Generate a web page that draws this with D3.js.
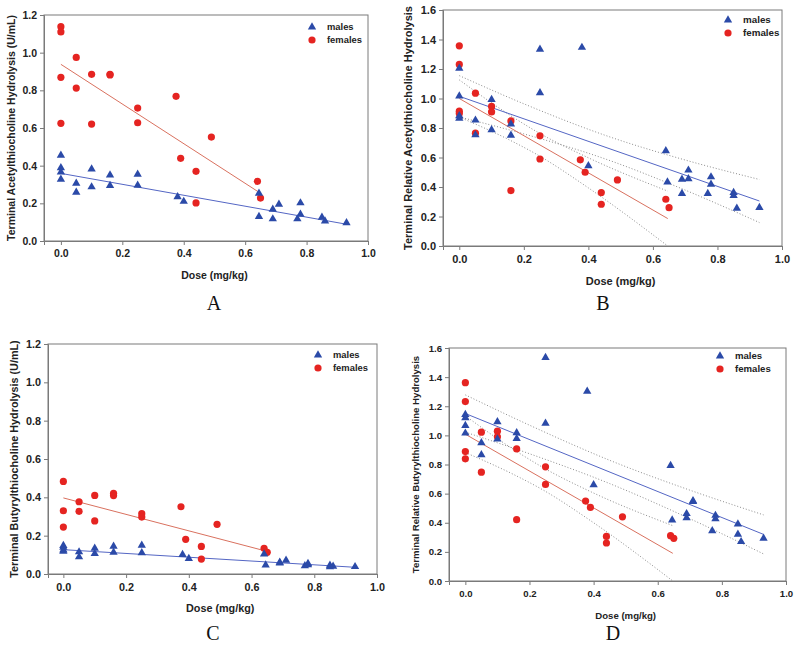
<!DOCTYPE html>
<html>
<head>
<meta charset="utf-8">
<script src="https://cdn.jsdelivr.net/npm/d3@7"></script>
<style>
  html, body { margin: 0; padding: 0; background: #fff; }
  svg { display: block; font-family: "Liberation Sans", Arial, sans-serif; }
  .tick text { font-weight: bold; fill: #222; }
</style>
</head>
<body>
<svg id="chart" width="800" height="645"></svg>
<script>
// ---------- DATA ----------
const doseTicks = [0, 0.2, 0.4, 0.6, 0.8, 1.0];
const seriesNames = ["males", "females"];

// Panel A: Terminal Acetylthiocholine Hydrolysis (U/mL)
const aMalesDose = [0,0,0,0,0.05,0.05,0.1,0.1,0.16,0.16,0.25,0.25,0.38,0.40,0.645,0.645,0.69,0.69,0.71,0.77,0.78,0.78,0.85,0.86,0.93];
const aMalesVal  = [0.455,0.389,0.366,0.327,0.306,0.258,0.382,0.287,0.350,0.294,0.354,0.296,0.235,0.210,0.253,0.130,0.168,0.117,0.195,0.117,0.202,0.142,0.126,0.106,0.096];
const aFemDose   = [0,0,0,0,0.05,0.05,0.1,0.1,0.16,0.16,0.25,0.25,0.375,0.39,0.44,0.44,0.49,0.64,0.65];
const aFemVal    = [1.138,1.110,0.869,0.625,0.975,0.812,0.885,0.621,0.885,0.882,0.706,0.628,0.768,0.439,0.370,0.202,0.552,0.317,0.228];
const aFitMales   = [[0,0.359],[0.93,0.089]];
const aFitFemales = [[0,0.938],[0.642,0.262]];

// Panel B: Terminal Relative Acetylthiocholine Hydrolysis
const bMalesDose = [0,0,0,0,0.05,0.05,0.1,0.1,0.16,0.16,0.25,0.25,0.38,0.40,0.64,0.645,0.69,0.69,0.71,0.71,0.77,0.78,0.78,0.85,0.85,0.86,0.93];
const bMalesVal  = [1.204,1.016,0.882,0.866,0.853,0.753,0.993,0.787,0.826,0.751,1.333,1.038,1.346,0.543,0.645,0.434,0.452,0.355,0.514,0.455,0.355,0.468,0.418,0.362,0.342,0.256,0.260];
const bFemDose   = [0,0,0,0,0.05,0.05,0.1,0.1,0.16,0.16,0.25,0.25,0.375,0.39,0.44,0.44,0.49,0.64,0.65];
const bFemVal    = [1.357,1.231,0.914,0.898,1.036,0.765,0.946,0.909,0.848,0.376,0.747,0.590,0.584,0.500,0.362,0.283,0.448,0.317,0.260];
const bFitMales   = [[0,1.015],[0.93,0.305]];
const bFitFemales = [[0,1.0],[0.646,0.186]];
const bBandMalesUpper   = [[0,1.155],[0.2,0.964],[0.45,0.752],[0.7,0.583],[0.93,0.451]];
const bBandMalesLower   = [[0,0.875],[0.2,0.760],[0.45,0.592],[0.7,0.379],[0.93,0.159]];
const bBandFemalesUpper = [[0,1.126],[0.15,0.897],[0.24,0.775],[0.4,0.598],[0.646,0.372]];
const bBandFemalesLower = [[0,0.874],[0.15,0.725],[0.24,0.621],[0.4,0.394],[0.646,0.0]];

// Panel C: Terminal Butyrylthiocholine Hydrolysis (U/mL)
const cMalesDose = [0,0,0,0,0.05,0.05,0.1,0.1,0.16,0.16,0.25,0.25,0.38,0.40,0.64,0.645,0.69,0.69,0.71,0.77,0.78,0.78,0.85,0.85,0.86,0.93];
const cMalesVal  = [0.148,0.139,0.125,0.118,0.115,0.089,0.134,0.106,0.144,0.113,0.150,0.111,0.101,0.080,0.104,0.047,0.061,0.057,0.071,0.043,0.054,0.048,0.045,0.037,0.040,0.038];
const cFemDose   = [0,0,0,0.05,0.05,0.1,0.1,0.16,0.16,0.25,0.25,0.375,0.39,0.44,0.44,0.49,0.64,0.65];
const cFemVal    = [0.483,0.330,0.245,0.377,0.327,0.410,0.277,0.421,0.409,0.315,0.297,0.351,0.181,0.144,0.078,0.259,0.134,0.113];
const cFitMales   = [[0,0.127],[0.93,0.035]];
const cFitFemales = [[0,0.397],[0.645,0.12]];

// Panel D: Terminal Relative Butyrylthiocholine Hydrolysis
const dMalesDose = [0,0,0,0,0.05,0.05,0.1,0.1,0.16,0.16,0.25,0.25,0.38,0.40,0.64,0.645,0.69,0.69,0.71,0.71,0.77,0.78,0.78,0.85,0.85,0.86,0.93];
const dMalesVal  = [1.143,1.120,1.067,1.015,0.949,0.866,1.093,0.974,1.017,0.978,1.534,1.083,1.303,0.661,0.793,0.418,0.462,0.434,0.551,0.545,0.345,0.450,0.427,0.391,0.320,0.270,0.293];
const dFemDose   = [0,0,0,0,0.05,0.05,0.1,0.1,0.16,0.16,0.25,0.25,0.375,0.39,0.44,0.44,0.49,0.64,0.65];
const dFemVal    = [1.362,1.232,0.889,0.839,1.022,0.747,1.029,0.990,0.907,0.421,0.784,0.663,0.549,0.505,0.306,0.261,0.441,0.311,0.293];
const dFitMales   = [[0,1.15],[0.93,0.32]];
const dFitFemales = [[0,1.008],[0.647,0.19]];
const dBandMalesUpper   = [[0,1.278],[0.2,1.070],[0.45,0.829],[0.7,0.624],[0.93,0.454]];
const dBandMalesLower   = [[0,1.022],[0.2,0.874],[0.45,0.669],[0.7,0.428],[0.93,0.186]];
const dBandFemalesUpper = [[0,1.134],[0.15,0.904],[0.24,0.782],[0.4,0.604],[0.647,0.38]];
const dBandFemalesLower = [[0,0.882],[0.15,0.732],[0.24,0.628],[0.4,0.400],[0.647,0.0]];

const yTicks12 = [0, 0.2, 0.4, 0.6, 0.8, 1.0, 1.2];
const yTicks16 = [0, 0.2, 0.4, 0.6, 0.8, 1.0, 1.2, 1.4, 1.6];

// ---------- PANEL OPTIONS ----------
const panels = [
  { letter: "A", yTitle: "Terminal Acetylthiocholine Hydrolysis (U/mL)",
    left: 44, right: 368, top: 15, bottom: 241, xMin: -0.055, yMax: 1.2, yTicks: yTicks12,
    males: [aMalesDose, aMalesVal], females: [aFemDose, aFemVal],
    fitM: aFitMales, fitF: aFitFemales, bands: [],
    fs: 10.5, legFs: 9.4, yTitleX: 11, xTitleY: 275, letterX: 214, letterY: 303, legX: 312, legY: 27 },
  { letter: "B", yTitle: "Terminal Relative Acetylthiocholine Hydrolysis",
    left: 443, right: 782, top: 10, bottom: 246, xMin: -0.0505, yMax: 1.6, yTicks: yTicks16,
    males: [bMalesDose, bMalesVal], females: [bFemDose, bFemVal],
    fitM: bFitMales, fitF: bFitFemales,
    bands: [bBandMalesUpper, bBandMalesLower, bBandFemalesUpper, bBandFemalesLower],
    fs: 11, legFs: 9.8, yTitleX: 408, xTitleY: 281, letterX: 603, letterY: 303, legX: 728, legY: 20 },
  { letter: "C", yTitle: "Terminal Butyrylthiocholine Hydrolysis (U/mL)",
    left: 48, right: 377, top: 344, bottom: 574, xMin: -0.049, yMax: 1.2, yTicks: yTicks12,
    males: [cMalesDose, cMalesVal], females: [cFemDose, cFemVal],
    fitM: cFitMales, fitF: cFitFemales, bands: [],
    fs: 10.8, legFs: 9.4, yTitleX: 14, xTitleY: 608, letterX: 213, letterY: 633, legX: 318, legY: 355 },
  { letter: "D", yTitle: "Terminal Relative Butyrylthiocholine Hydrolysis",
    left: 449, right: 786, top: 348, bottom: 581, xMin: -0.051, yMax: 1.6, yTicks: yTicks16,
    males: [dMalesDose, dMalesVal], females: [dFemDose, dFemVal],
    fitM: dFitMales, fitF: dFitFemales,
    bands: [dBandMalesUpper, dBandMalesLower, dBandFemalesUpper, dBandFemalesLower],
    fs: 9.6, legFs: 9.6, yTitleX: 416, xTitleY: 616, letterX: 613, letterY: 633, legX: 720, legY: 356 }
];

const BLUE = "#2b4aa8", RED = "#e52421";
const BLUE_LINE = "#5466c4", RED_LINE = "#d9715f";
const AXIS = "#7a7a7a", BAND = "#8c8c8c";

const svg = d3.select("#chart");
const tri = d3.symbol().type(d3.symbolTriangle).size(30);

panels.forEach(p => {
  const x = d3.scaleLinear().domain([p.xMin, 1.0]).range([p.left, p.right]);
  const y = d3.scaleLinear().domain([0, p.yMax]).range([p.bottom, p.top]);
  const g = svg.append("g");

  // frame
  g.append("rect").attr("x", p.left).attr("y", p.top)
    .attr("width", p.right - p.left).attr("height", p.bottom - p.top)
    .attr("fill", "none").attr("stroke", AXIS).attr("stroke-width", 1);

  // axes
  const xa = g.append("g").attr("transform", `translate(0,${p.bottom})`)
    .call(d3.axisBottom(x).tickValues(doseTicks).tickFormat(d3.format(".1f")).tickSize(4).tickPadding(5));
  const ya = g.append("g").attr("transform", `translate(${p.left},0)`)
    .call(d3.axisLeft(y).tickValues(p.yTicks).tickFormat(d3.format(".1f")).tickSize(4).tickPadding(3));
  [xa, ya].forEach(a => {
    a.select(".domain").attr("stroke", AXIS);
    a.selectAll(".tick line").attr("stroke", AXIS);
    a.selectAll(".tick text").style("font-size", p.fs + "px");
  });

  // confidence bands
  const bandLine = d3.line().x(d => x(d[0])).y(d => y(d[1])).curve(d3.curveMonotoneX);
  p.bands.forEach(b => {
    g.append("path").attr("d", bandLine(b)).attr("fill", "none")
      .attr("stroke", BAND).attr("stroke-width", 1).attr("stroke-dasharray", "1,2");
  });

  // regression lines
  const fit = d3.line().x(d => x(d[0])).y(d => y(d[1]));
  g.append("path").attr("d", fit(p.fitF)).attr("fill", "none").attr("stroke", RED_LINE).attr("stroke-width", 1);
  g.append("path").attr("d", fit(p.fitM)).attr("fill", "none").attr("stroke", BLUE_LINE).attr("stroke-width", 1);

  // points
  const fem = p.females[0].map((d, i) => [d, p.females[1][i]]);
  const mal = p.males[0].map((d, i) => [d, p.males[1][i]]);
  g.selectAll(".f").data(fem).join("circle").attr("class", "f")
    .attr("cx", d => x(d[0])).attr("cy", d => y(d[1])).attr("r", 3.6).attr("fill", RED);
  g.selectAll(".m").data(mal).join("path").attr("class", "m")
    .attr("d", tri).attr("transform", d => `translate(${x(d[0])},${y(d[1])})`).attr("fill", BLUE);

  // legend
  g.append("path").attr("d", tri).attr("transform", `translate(${p.legX},${p.legY})`).attr("fill", BLUE);
  g.append("circle").attr("cx", p.legX).attr("cy", p.legY + 13).attr("r", 3.6).attr("fill", RED);
  seriesNames.forEach((s, i) => {
    g.append("text").attr("x", p.legX + 15).attr("y", p.legY + 13 * i).attr("dy", "0.35em")
      .style("font-size", p.legFs + "px").style("font-weight", "bold").attr("fill", "#222").text(s);
  });

  // axis titles
  g.append("text").attr("x", (x(0) + x(1)) / 2).attr("y", p.xTitleY).attr("dy", "0.35em")
    .attr("text-anchor", "middle").style("font-size", p.fs + "px").style("font-weight", "bold")
    .attr("fill", "#222").text("Dose (mg/kg)");
  g.append("text").attr("transform", `translate(${p.yTitleX},${(p.top + p.bottom) / 2}) rotate(-90)`)
    .attr("dy", "0.35em").attr("text-anchor", "middle")
    .style("font-size", p.fs + "px").style("font-weight", "bold").attr("fill", "#222").text(p.yTitle);

  // panel letter
  g.append("text").attr("x", p.letterX).attr("y", p.letterY).attr("dy", "0.35em")
    .attr("text-anchor", "middle").style("font-family", "'Liberation Serif', 'Times New Roman', serif")
    .style("font-size", "20px").attr("fill", "#111").text(p.letter);
});
</script>
</body>
</html>
